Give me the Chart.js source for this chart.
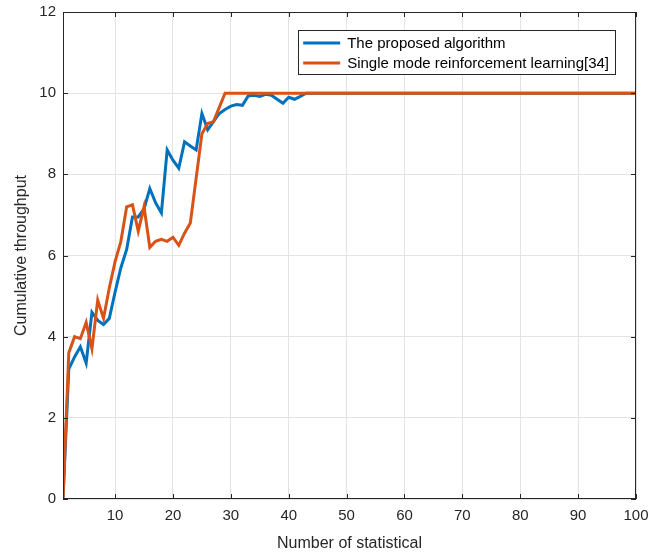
<!DOCTYPE html>
<html>
<head>
<meta charset="utf-8">
<script src="https://cdn.jsdelivr.net/npm/chart.js@4"></script>
<style>
html,body{margin:0;padding:0;background:#fff;}
#canvasContainer{width:667px;height:555px;}
</style>
</head>
<body>
<div id="canvasContainer"><canvas id="Grafica" width="667" height="555"></canvas></div>
<script>
// statistic index 1..100
const statIndex = [
    1,2,3,4,5,6,7,8,9,10,11,12,13,14,15,16,17,18,19,20,
    21,22,23,24,25,26,27,28,29,30,31,32,33,34,35,36,37,38,39,40,
    41,42,43,44,45,46,47,48,49,50,51,52,53,54,55,56,57,58,59,60,
    61,62,63,64,65,66,67,68,69,70,71,72,73,74,75,76,77,78,79,80,
    81,82,83,84,85,86,87,88,89,90,91,92,93,94,95,96,97,98,99,100
];

const proposed = [
    0,3.2,3.5,3.75,3.35,4.6,4.4,4.3,4.45,5.1,5.7,6.15,6.95,6.95,7.15,7.65,7.3,7.05,8.6,8.35,
    8.15,8.8,8.7,8.6,9.5,9.1,9.3,9.5,9.6,9.68,9.72,9.7,9.93,9.95,9.92,9.97,9.95,9.85,9.75,9.9,
    9.85,9.92,10,10,10,10,10,10,10,10,10,10,10,10,10,10,10,10,10,10,
    10,10,10,10,10,10,10,10,10,10,10,10,10,10,10,10,10,10,10,10,
    10,10,10,10,10,10,10,10,10,10,10,10,10,10,10,10,10,10,10,10
];

const singleMode = [
    0,3.6,4.0,3.95,4.35,3.7,4.9,4.45,5.2,5.85,6.35,7.2,7.25,6.6,7.2,6.2,6.35,6.4,6.35,6.45,
    6.25,6.55,6.8,7.9,9.0,9.25,9.3,9.65,10,10,10,10,10,10,10,10,10,10,10,10,
    10,10,10,10,10,10,10,10,10,10,10,10,10,10,10,10,10,10,10,10,
    10,10,10,10,10,10,10,10,10,10,10,10,10,10,10,10,10,10,10,10,
    10,10,10,10,10,10,10,10,10,10,10,10,10,10,10,10,10,10,10,10
];

const xTicks = [10,20,30,40,50,60,70,80,90,100];
const yTicks = [0,2,4,6,8,10,12];

const seriesNames = ['The proposed algorithm', 'Single mode reinforcement learning[34]'];
const seriesColors = ['#0072BD', '#D95319'];

const axisColor = '#262626';
const gridColor = '#e3e3e3';
const fontFamily = '"Liberation Sans", Arial, Helvetica, sans-serif';

function toPoints(ys){
    return statIndex.map((x, i) => ({x: x, y: ys[i]}));
}

// box around the axes with inward tick marks on all four sides, plus legend
const boxPlugin = {
    id: 'boxTicks',
    afterDraw(chart){
        const ctx = chart.ctx;
        const a = chart.chartArea;
        const xs = chart.scales.x;
        const ys = chart.scales.y;
        const tl = 5;
        ctx.save();
        ctx.strokeStyle = axisColor;
        ctx.lineWidth = 1;
        ctx.strokeRect(a.left + 0.5, a.top + 0.5, a.right - a.left - 1, a.bottom - a.top - 1);
        ctx.beginPath();
        xTicks.forEach(v => {
            const px = Math.round(xs.getPixelForValue(v)) + 0.5;
            ctx.moveTo(px, a.bottom); ctx.lineTo(px, a.bottom - tl);
            ctx.moveTo(px, a.top); ctx.lineTo(px, a.top + tl);
        });
        yTicks.forEach(v => {
            const py = Math.round(ys.getPixelForValue(v)) + 0.5;
            ctx.moveTo(a.left, py); ctx.lineTo(a.left + tl, py);
            ctx.moveTo(a.right, py); ctx.lineTo(a.right - tl, py);
        });
        ctx.stroke();

        // legend
        ctx.font = '15px ' + fontFamily;
        const labels = chart.data.datasets.map(d => d.label);
        const textW = Math.max(...labels.map(l => ctx.measureText(l).width));
        const boxW = 5 + 39 + 5 + textW + 6;
        const boxH = 44;
        const right = a.right - 21;
        const left = right - boxW;
        const top = a.top + 18;
        ctx.fillStyle = '#fff';
        ctx.fillRect(left, top, boxW, boxH);
        ctx.strokeStyle = axisColor;
        ctx.strokeRect(Math.round(left) + 0.5, top + 0.5, Math.round(boxW), boxH);
        chart.data.datasets.forEach((d, i) => {
            const cy = top + 13 + i * 20;
            ctx.strokeStyle = d.borderColor;
            ctx.lineWidth = 3;
            ctx.beginPath();
            ctx.moveTo(left + 5, cy);
            ctx.lineTo(left + 42, cy);
            ctx.stroke();
            ctx.fillStyle = '#000';
            ctx.textBaseline = 'middle';
            ctx.fillText(d.label, left + 49, cy + 1);
        });
        ctx.restore();
    }
};

const config = {
    type: 'line',
    data: {
        datasets: [
            {
                label: seriesNames[0],
                data: toPoints(proposed),
                borderColor: seriesColors[0],
                backgroundColor: seriesColors[0],
                borderWidth: 3,
                pointRadius: 0,
                tension: 0,
                order: 1 // drawn first, under the second series
            },
            {
                label: seriesNames[1],
                data: toPoints(singleMode),
                borderColor: seriesColors[1],
                backgroundColor: seriesColors[1],
                borderWidth: 3,
                pointRadius: 0,
                tension: 0,
                order: 0
            }
        ]
    },
    options: {
        responsive: false,
        animation: false,
        devicePixelRatio: 1,
        layout: { padding: { top: 12, right: 31, left: 0, bottom: 0 } },
        plugins: {
            legend: { display: false },
            tooltip: { enabled: false }
        },
        scales: {
            x: {
                type: 'linear',
                min: 1,
                max: 100,
                afterBuildTicks: s => { s.ticks = xTicks.map(v => ({value: v})); },
                afterFit: s => { s.height = 56; s.paddingLeft = 0; s.paddingRight = 0; },
                grid: { color: gridColor, drawTicks: false },
                border: { display: false },
                ticks: { color: axisColor, font: { size: 15, family: fontFamily }, padding: 8, maxRotation: 0 },
                title: { display: true, text: 'Number of statistical', color: axisColor,
                         font: { size: 16, family: fontFamily }, padding: { top: 0, bottom: 2 } }
            },
            y: {
                min: 0,
                max: 12,
                afterBuildTicks: s => { s.ticks = yTicks.map(v => ({value: v})); },
                afterFit: s => { s.width = 63; s.paddingTop = 0; s.paddingBottom = 0; },
                grid: { color: gridColor, drawTicks: false },
                border: { display: false },
                ticks: { color: axisColor, font: { size: 15, family: fontFamily }, padding: 7 },
                title: { display: true, text: 'Cumulative throughput', color: axisColor,
                         font: { size: 16, family: fontFamily }, padding: { top: 12, bottom: 0 } }
            }
        }
    },
    plugins: [boxPlugin]
};

new Chart(document.getElementById('Grafica').getContext('2d'), config);
</script>
</body>
</html>
